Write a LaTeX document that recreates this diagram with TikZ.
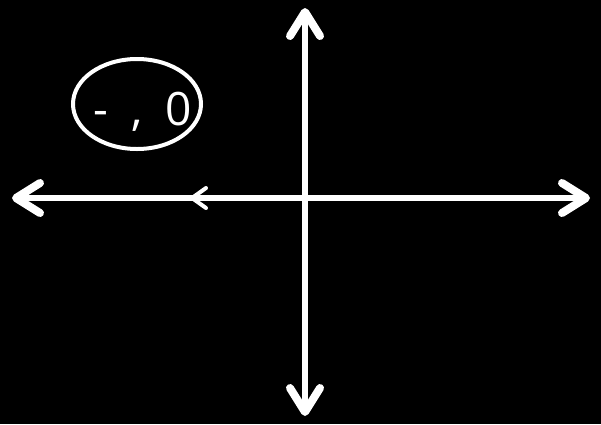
\documentclass[tikz,border=0pt]{standalone}
\usepackage{fontspec}
\setmainfont{Open Sans}
\usetikzlibrary{arrows.meta,shapes.geometric}
\tikzset{
  bighead/.tip={Straight Barb[length=24pt,width=30pt,line width=8pt,round]},
  axis/.style={draw=white, line width=6pt, line cap=round, bighead-bighead},
  smallhead/.style={draw=white, line width=4pt, line cap=round,
    -{Straight Barb[length=14pt,width=20pt,round]}},
  ring/.style={draw=white, line width=4pt, ellipse, minimum width=128pt, minimum height=90pt, inner sep=0pt},
  lbl/.style={text=white, font=\fontsize{46}{46}\selectfont, inner sep=0pt}
}
\begin{document}
\begin{tikzpicture}[x=1pt,y=-1pt]
\fill[black] (0,0) rectangle (601,424);
\useasboundingbox (0,0) rectangle (601,424);
\coordinate (L) at (12,198);
\coordinate (R) at (590,198);
\coordinate (T) at (305,8);
\coordinate (B) at (305,416);
\coordinate (s1) at (230,198);
\coordinate (s2) at (190,198);
\draw[axis] (L) -- (R);
\draw[axis] (B) -- (T);
\draw[smallhead] (s1) -- (s2);
\node[ring] (oval) at (137,104) {};
\node[lbl, anchor=base west] (txt) at (93,125) {-\hspace{23.7pt},\hspace{22.7pt}0};
\end{tikzpicture}
\end{document}
